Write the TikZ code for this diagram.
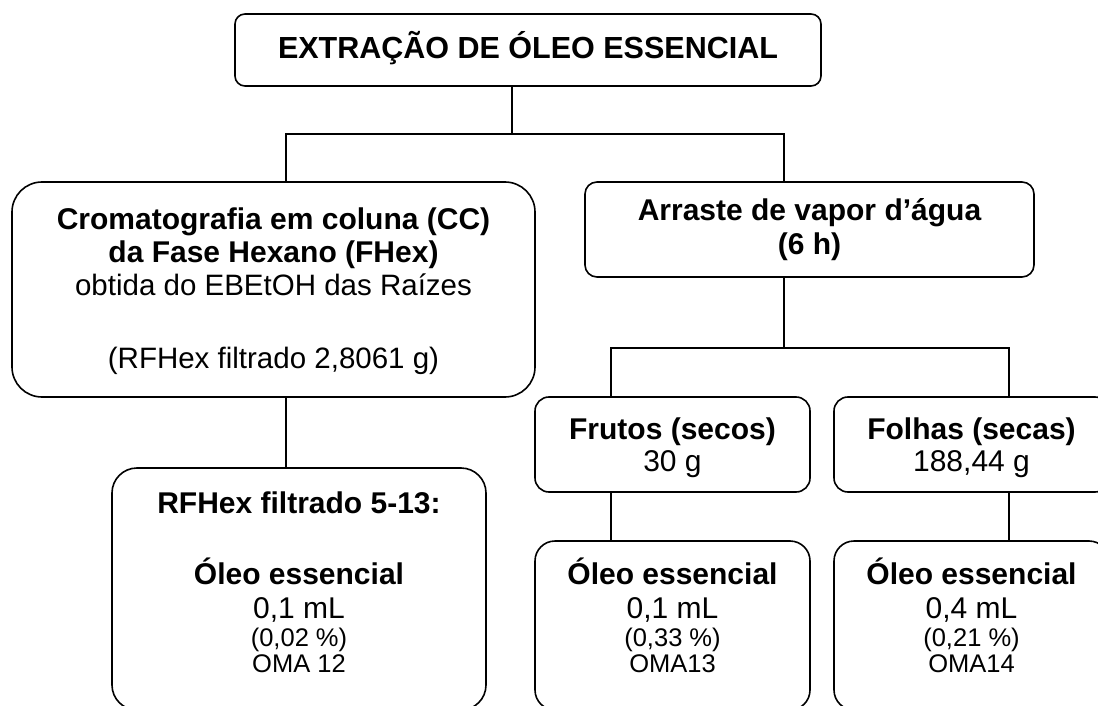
\documentclass[tikz,border=0pt]{standalone}
\usepackage{fontspec}
\setmainfont{Liberation Sans}
\newcommand\fmain{\fontsize{30}{36}\selectfont}
\newcommand\freg{\fontsize{29.5}{35}\selectfont}
\newcommand\fsmall{\fontsize{25.5}{30}\selectfont}
\newcommand\ftitle{\fontsize{30.5}{36}\selectfont}
\begin{document}
\begin{tikzpicture}[x=1pt,y=-1pt,
  box/.style={draw=black,line width=1.6pt,fill=white,inner sep=0pt},
  txt/.style={anchor=base,inner sep=0pt,text=black},
  conn/.style={draw=black,line width=1.6pt}]
\useasboundingbox[fill=white] (0,0) rectangle (1098,706);
% boxes
\node[box,rounded corners=10pt,minimum width=586pt,minimum height=72pt] (top) at (528,50) {};
\node[box,rounded corners=30pt,minimum width=523pt,minimum height=215pt] (left) at (273.5,289.5) {};
\node[box,rounded corners=12pt,minimum width=449pt,minimum height=95pt] (arr) at (809.5,229.5) {};
\node[box,rounded corners=25pt,minimum width=374pt,minimum height=242pt] (rf) at (299,589) {};
\node[box,rounded corners=14pt,minimum width=275pt,minimum height=95pt] (fru) at (672.5,444.5) {};
\node[box,rounded corners=14pt,minimum width=275pt,minimum height=95pt] (fol) at (971.5,444.5) {};
\node[box,rounded corners=20pt,minimum width=275pt,minimum height=169pt] (fruo) at (672.5,625.5) {};
\node[box,rounded corners=20pt,minimum width=275pt,minimum height=169pt] (folo) at (971.5,625.5) {};
% connectors
\coordinate (j1) at (512,134);
\coordinate (hl) at (286,134);
\coordinate (hr) at (784,134);
\coordinate (j2) at (784,348);
\coordinate (h2l) at (611,348);
\coordinate (h2r) at (1009,348);
\draw[conn] (top.south -| j1) -- (j1);
\draw[conn] (left.north -| hl) -- (hl) -- (hr) -- (arr.north -| hr);
\draw[conn] (left.south -| hl) -- (rf.north -| hl);
\draw[conn] (arr.south -| j2) -- (j2);
\draw[conn] (fru.north -| h2l) -- (h2l) -- (h2r) -- (fol.north -| h2r);
\draw[conn] (fru.south -| h2l) -- (fruo.north -| h2l);
\draw[conn] (fol.south -| h2r) -- (folo.north -| h2r);
% texts
\node[txt,font=\ftitle\bfseries] (t0) at (528,59) {EXTRAÇÃO DE ÓLEO ESSENCIAL};
\node[txt,font=\fmain\bfseries] (l1) at (273.5,229) {Cromatografia em coluna (CC)};
\node[txt,font=\fmain\bfseries] (l2) at (273.5,262) {da Fase Hexano (FHex)};
\node[txt,font=\freg] (l3) at (273.5,295) {obtida do EBEtOH das Raízes};
\node[txt,font=\freg] (l4) at (273.5,368) {(RFHex filtrado 2,8061 g)};
\node[txt,font=\fmain\bfseries] (a1) at (809.5,220) {Arraste de vapor d’água};
\node[txt,font=\fmain\bfseries] (a2) at (809.5,254) {(6 h)};
\node[txt,font=\fmain\bfseries] (f1) at (672.5,439) {Frutos (secos)};
\node[txt,font=\fmain] (f2) at (672.5,471) {30 g};
\node[txt,font=\fmain\bfseries] (g1) at (971.5,439) {Folhas (secas)};
\node[txt,font=\fmain] (g2) at (971.5,471) {188,44 g};
\node[txt,font=\fmain\bfseries] (r1) at (299,513) {RFHex filtrado 5-13:};
\node[txt,font=\fmain\bfseries] (r2) at (299,584) {Óleo essencial};
\node[txt,font=\fmain] (r3) at (299,618) {0,1 mL};
\node[txt,font=\fsmall] (r4) at (299,646) {(0,02 \%)};
\node[txt,font=\fsmall] (r5) at (299,672) {OMA 12};
\node[txt,font=\fmain\bfseries] (p2) at (672.5,584) {Óleo essencial};
\node[txt,font=\fmain] (p3) at (672.5,618) {0,1 mL};
\node[txt,font=\fsmall] (p4) at (672.5,646) {(0,33 \%)};
\node[txt,font=\fsmall] (p5) at (672.5,672) {OMA13};
\node[txt,font=\fmain\bfseries] (q2) at (971.5,584) {Óleo essencial};
\node[txt,font=\fmain] (q3) at (971.5,618) {0,4 mL};
\node[txt,font=\fsmall] (q4) at (971.5,646) {(0,21 \%)};
\node[txt,font=\fsmall] (q5) at (971.5,672) {OMA14};
\end{tikzpicture}
\end{document}
